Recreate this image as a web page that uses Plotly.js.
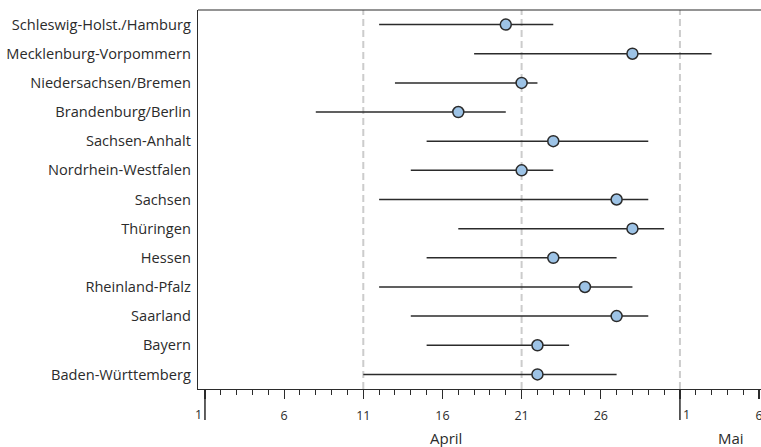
<!DOCTYPE html>
<html>
<head>
<meta charset="utf-8">
<script src="https://cdn.plot.ly/plotly-3.0.1.min.js"></script>
<style>html,body{margin:0;padding:0;background:#fff;}#chart{width:761px;height:447px;}</style>
</head>
<body>
<div id="chart"></div>
<script>
// Day numbers: 1 = 1. April, 31 = 1. Mai
const states = [
  "Schleswig-Holst./Hamburg",
  "Mecklenburg-Vorpommern",
  "Niedersachsen/Bremen",
  "Brandenburg/Berlin",
  "Sachsen-Anhalt",
  "Nordrhein-Westfalen",
  "Sachsen",
  "Thüringen",
  "Hessen",
  "Rheinland-Pfalz",
  "Saarland",
  "Bayern",
  "Baden-Württemberg"
];
const midDay   = [20, 28, 21, 17, 23, 21, 27, 28, 23, 25, 27, 22, 22];
const earliest = [12, 18, 13,  8, 15, 14, 12, 17, 15, 12, 14, 15, 11];
const latest   = [23, 33, 22, 20, 29, 23, 29, 30, 27, 28, 29, 24, 27];

const tickDays   = [1, 6, 11, 16, 21, 26, 31, 36];
const tickLabels = ["", "6", "11", "16", "21", "26", "", "6"];
const monthStarts = [1, 31];
const monthStartLabels = ["1", "1"];
const refDays = [11, 21, 31];
const months = [{name: "April", day: 16.2}, {name: "Mai", day: 34.2}];

const rows = states.map((s, i) => i);
const plus = latest.map((v, i) => v - midDay[i]);
const minus = midDay.map((v, i) => v - earliest[i]);

const dark = "#2b2b2b";
const fontFam = "'Open Sans', 'Noto Sans', sans-serif";

const trace = {
  type: "scatter",
  mode: "markers",
  x: midDay,
  y: rows,
  error_x: {
    type: "data",
    symmetric: false,
    array: plus,
    arrayminus: minus,
    width: 0,
    thickness: 1.5,
    color: dark
  },
  marker: {
    size: 11,
    color: "#9dc3e6",
    line: {color: dark, width: 1.5}
  },
  hoverinfo: "skip",
  cliponaxis: false
};

const shapes = [];
refDays.forEach(d => shapes.push({
  type: "line", xref: "x", yref: "paper", x0: d, x1: d, y0: 0, y1: 1,
  layer: "below", line: {color: "#cccccc", width: 2, dash: "7px,4px"}
}));
monthStarts.forEach(d => shapes.push({
  type: "line", xref: "x", yref: "paper", x0: d, x1: d, y0: 0, y1: -0.082,
  line: {color: dark, width: 1.5}
}));
shapes.push({
  type: "line", xref: "paper", yref: "paper", x0: 0, x1: 1, y0: 1, y1: 1,
  line: {color: dark, width: 1.2}
});

const annotations = [];
monthStarts.forEach((d, i) => annotations.push({
  xref: "x", yref: "paper", x: d, y: -0.068, text: monthStartLabels[i],
  showarrow: false, xanchor: i === 0 ? "right" : "left", yanchor: "middle",
  xshift: i === 0 ? -1 : 1,
  font: {family: fontFam, size: 12.5, color: dark}
}));
months.forEach(m => annotations.push({
  xref: "x", yref: "paper", x: m.day, y: -0.129, text: m.name,
  showarrow: false, xanchor: "center", yanchor: "middle",
  font: {family: fontFam, size: 15, color: dark}
}));

const layout = {
  width: 761,
  height: 447,
  margin: {l: 198, r: 0, t: 10, b: 58, pad: 0},
  paper_bgcolor: "#ffffff",
  plot_bgcolor: "#ffffff",
  showlegend: false,
  font: {family: fontFam, color: dark},
  xaxis: {
    range: [0.56, 36.12],
    tickmode: "array",
    tickvals: tickDays,
    ticktext: tickLabels,
    ticks: "outside",
    ticklen: 9,
    tickwidth: 1.2,
    tickcolor: dark,
    ticklabelstandoff: 6,
    ticklabeloverflow: "allow",
    tickfont: {family: fontFam, size: 12.5, color: dark},
    minor: {tickmode: "linear", tick0: 1, dtick: 1, ticks: "outside", ticklen: 5, tickwidth: 1, tickcolor: dark, showgrid: false},
    showgrid: false,
    zeroline: false,
    showline: true,
    linecolor: dark,
    linewidth: 1.2,
    automargin: false,
    fixedrange: true
  },
  yaxis: {
    range: [12.5, -0.5],
    tickmode: "array",
    tickvals: rows,
    ticktext: states,
    ticks: "",
    ticklabelstandoff: 3,
    tickfont: {family: fontFam, size: 14.6, color: dark},
    showgrid: false,
    zeroline: false,
    showline: true,
    linecolor: dark,
    linewidth: 1.2,
    automargin: false,
    fixedrange: true
  },
  shapes: shapes,
  annotations: annotations
};

Plotly.newPlot("chart", [trace], layout, {displayModeBar: false, staticPlot: true});
</script>
</body>
</html>
